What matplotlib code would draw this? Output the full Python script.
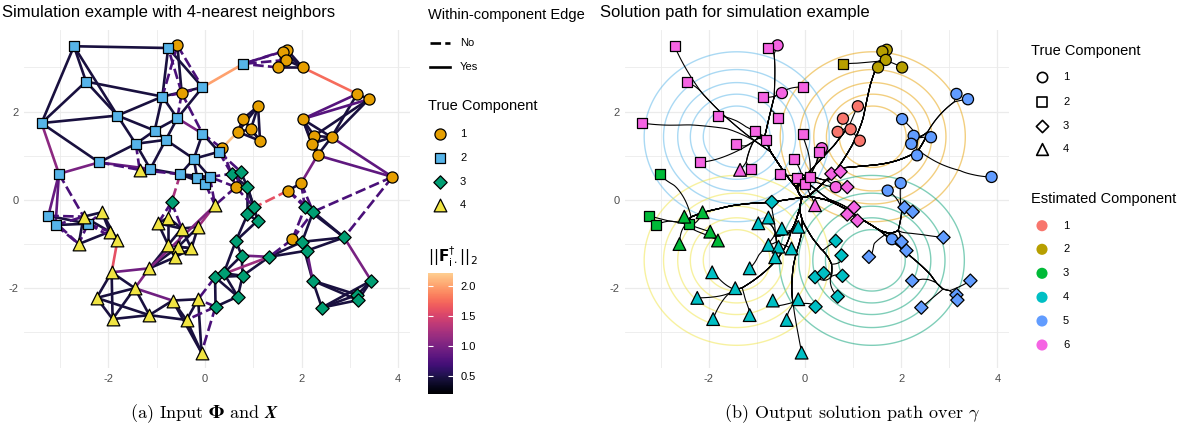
import numpy as np
import matplotlib
matplotlib.use("Agg")
import matplotlib.pyplot as plt
import matplotlib as mpl
from matplotlib.collections import LineCollection
from matplotlib.colors import LinearSegmentedColormap, Normalize

plt.rcParams['font.family'] = ['Liberation Sans', 'DejaVu Sans']
plt.rcParams['mathtext.fontset'] = 'dejavusans'
plt.rcParams['axes.unicode_minus'] = False

# ---------------- data ----------------
c1_x = [-0.57, -0.48, 1.70, 1.61, 1.68, 1.52, 2.02, 3.15, 3.39, 1.10, 0.79, 0.95, 0.68,
        1.14, 2.02, 2.26, 2.62, 2.21, 2.33, 3.88, 0.35, 0.64, 1.72, 1.99, 1.81]
c1_y = [3.50, 2.42, 3.40, 3.36, 3.17, 3.00, 3.00, 2.40, 2.28, 2.12, 1.84, 1.60, 1.54,
        1.34, 1.83, 1.45, 1.42, 1.27, 1.01, 0.52, 1.17, 0.29, 0.21, 0.38, -0.89]
c1_est = [6, 6, 2, 2, 2, 2, 2, 5, 5, 1, 1, 1, 1, 1, 5, 5, 5, 5, 5, 5, 6, 6, 5, 5, 5]

c2_x = [-2.71, -0.76, -2.46, -3.38, -1.81, -0.88, -0.57, -1.04, -0.81, -1.43, -0.05, -0.05, -0.23,
        -2.19, -1.13, -3.02, -0.51, -0.16, 0.01, 0.10, 0.29, 0.79, -3.24, -3.09, -2.42]
c2_y = [3.48, 3.44, 2.68, 1.74, 1.91, 2.34, 1.85, 1.57, 1.36, 1.27, 2.55, 1.50, 0.93,
        0.85, 0.70, 0.59, 0.58, 0.49, 0.36, 0.52, 1.09, 3.08, -0.36, -0.57, -0.54]
c2_est = [6, 6, 6, 6, 6, 6, 6, 6, 6, 6, 6, 6, 6, 6, 6, 3, 6, 6, 6, 6, 6, 2, 3, 3, 3]

c3_x = [-0.69, 0.55, 0.74, 0.88, 1.02, 0.88, 1.09, 0.64, 0.76, 1.33, 0.21, 0.39, 0.78,
        0.68, 0.22, 2.07, 2.24, 2.88, 2.01, 2.11, 2.23, 3.44, 3.15, 3.17, 2.42]
c3_y = [-0.05, 0.59, 0.64, 0.29, -0.17, -0.33, -0.47, -0.93, -1.26, -1.29, -1.75, -1.66, -1.72,
        -2.19, -2.42, -0.17, -0.27, -0.85, -0.95, -1.15, -1.83, -1.83, -2.15, -2.27, -2.44]
c3_est = [4, 6, 6, 6, 6, 6, 6, 4, 4, 5, 4, 4, 4, 4, 4, 5, 5, 5, 5, 5, 5, 5, 5, 5, 5]

c4_x = [-1.35, -2.51, -2.13, -1.97, -1.81, -2.61, -0.97, -0.76, -0.48, -0.14, -0.76, -0.55, -0.28,
        -0.62, -1.15, -1.93, -1.45, -2.24, -1.91, -1.15, -0.67, -0.14, -0.38, -0.07, 0.21]
c4_y = [0.68, -0.38, -0.28, -0.72, -0.92, -1.00, -0.53, -0.40, -0.65, -0.61, -1.02, -1.06, -1.10,
        -1.30, -1.55, -1.64, -2.00, -2.22, -2.70, -2.61, -2.28, -2.25, -2.72, -3.46, -0.12]
c4_est = [6, 3, 3, 3, 3, 3, 4, 4, 4, 4, 4, 4, 4, 4, 4, 4, 4, 4, 4, 4, 4, 4, 4, 4, 6]

# notable edges (component, index within component; 1-based) and their ||F|| values
edge_hi_a = [(2, 22), (1, 7), (1, 21), (3, 5), (4, 16), (2, 4), (2, 14), (2, 7), (4, 15),
             (4, 16), (4, 17), (4, 25), (4, 10), (3, 1), (3, 10), (1, 24), (3, 18), (3, 20),
             (2, 14), (2, 16), (2, 16), (3, 9), (1, 20), (1, 20), (1, 8), (1, 9)]
edge_hi_b = [(2, 11), (1, 8), (1, 13), (1, 23), (4, 5), (2, 16), (2, 16), (2, 12), (4, 17),
             (4, 15), (4, 21), (4, 15), (4, 25), (2, 17), (3, 11), (1, 19), (3, 22), (3, 21),
             (2, 15), (2, 23), (2, 24), (3, 10), (1, 17), (1, 19), (1, 15), (1, 15)]
edge_hi_val = [2.0, 1.75, 2.15, 1.6, 1.6, 1.1, 1.0, 1.0, 1.05,
               0.95, 0.95, 1.05, 1.2, 1.25, 1.2, 1.0, 1.0, 0.9,
               0.9, 0.9, 0.85, 0.95, 0.85, 0.85, 0.8, 0.8]
edge_val_within = 0.47
edge_val_between = 0.74
k_neighbors = 4
weight_phi = 0.5

true_labels = ['1', '2', '3', '4']
true_colors = ['#E69F00', '#56B4E9', '#009E73', '#F0E442']
true_markers = ['o', 's', 'D', '^']
marker_sizes = [64, 52, 46, 84]
est_labels = ['1', '2', '3', '4', '5', '6']
est_colors = ['#F8766D', '#B79F00', '#00BA38', '#00BFC4', '#619CFF', '#F564E3']
comp_mean_x = [1.41, -1.42, 1.39, -1.42]
comp_mean_y = [1.43, 1.43, -1.37, -1.37]
density_levels = [0.025, 0.05, 0.075, 0.1, 0.125]
cbar_ticks = [0.5, 1.0, 1.5, 2.0]
cbar_range = (0.21, 2.22)

# ---------------- assemble ----------------
groups_x = [c1_x, c2_x, c3_x, c4_x]
groups_y = [c1_y, c2_y, c3_y, c4_y]
groups_e = [c1_est, c2_est, c3_est, c4_est]
xs = np.array(sum(groups_x, []), float)
ys = np.array(sum(groups_y, []), float)
est = np.array(sum(groups_e, []), int)
true = np.concatenate([[c + 1] * len(g) for c, g in enumerate(groups_x)])
offs = np.concatenate([[0], np.cumsum([len(g) for g in groups_x])])
def gidx(ci):
    c, i = ci
    return int(offs[c - 1] + i - 1)

P = np.column_stack([xs, ys])
n = len(P)
Dm = np.sqrt(((P[:, None, :] - P[None, :, :]) ** 2).sum(-1))
A = np.zeros((n, n))
for i in range(n):
    nn = np.argsort(Dm[i])[1:k_neighbors + 1]
    A[i, nn] = 1
    A[nn, i] = 1
vals = {}
for i in range(n):
    for j in range(i + 1, n):
        if A[i, j]:
            vals[(i, j)] = edge_val_within if true[i] == true[j] else edge_val_between
for a, b, v in zip(edge_hi_a, edge_hi_b, edge_hi_val):
    i, j = sorted((gidx(a), gidx(b)))
    vals[(i, j)] = v
    A[i, j] = A[j, i] = 1

cmap = LinearSegmentedColormap.from_list('mag', plt.cm.magma(np.linspace(0, 0.9, 256)))
norm = Normalize(*cbar_range)

# ---------------- convex clustering solution path (ADMM) ----------------
edges = np.array(sorted(vals.keys()))
E = len(edges)
Dmat = np.zeros((E, n))
Dmat[np.arange(E), edges[:, 0]] = 1.0
Dmat[np.arange(E), edges[:, 1]] = -1.0
wts = np.exp(-weight_phi * Dm[edges[:, 0], edges[:, 1]] ** 2)
nu = 1.0
Minv = np.linalg.inv(np.eye(n) + nu * Dmat.T @ Dmat)
U = P.copy(); V = Dmat @ U; Lam = np.zeros_like(V)
gammas = np.logspace(-2.5, 1.7, 110)
path = [P.copy()]
for g in gammas:
    sig = (g * wts / nu)[:, None]
    for it in range(250):
        U = Minv @ (P + Dmat.T @ (Lam + nu * V))
        DU = Dmat @ U
        Zt = DU - Lam / nu
        nz = np.linalg.norm(Zt, axis=1, keepdims=True)
        V = np.maximum(0.0, 1.0 - sig / np.maximum(nz, 1e-12)) * Zt
        Lam = Lam + nu * (V - DU)
    path.append(U.copy())
paths = np.array(path)

# ---------------- figure ----------------
W, H = 1188, 440
fig = plt.figure(figsize=(W / 100, H / 100), dpi=100)

def pax(l, t, w, h):
    return fig.add_axes([l / W, 1 - (t + h) / H, w / W, h / H])

xr = xs.max() - xs.min(); yr = ys.max() - ys.min()
xlim = (xs.min() - 0.05 * xr, xs.max() + 0.05 * xr)
ylim = (ys.min() - 0.05 * yr, ys.max() + 0.05 * yr)

def style(ax):
    ax.set_xlim(xlim); ax.set_ylim(ylim)
    for s in ax.spines.values():
        s.set_visible(False)
    ax.set_xticks([-2, 0, 2, 4]); ax.set_yticks([-2, 0, 2])
    ax.set_xticks([-3, -1, 1, 3], minor=True); ax.set_yticks([-3, -1, 1, 3], minor=True)
    ax.grid(True, which='major', color='#ebebeb', lw=0.9)
    ax.grid(True, which='minor', color='#ebebeb', lw=0.6)
    ax.tick_params(which='both', length=0, labelsize=8, labelcolor='#4d4d4d', pad=4)
    ax.set_axisbelow(True)
    ax.set_facecolor('none')

axL = pax(24, 30, 386, 338)
axR = pax(625, 30, 384, 338)
style(axL); style(axR)

# left: edges
solid, dashed, sv, dv = [], [], [], []
for (i, j), v in vals.items():
    seg = [(xs[i], ys[i]), (xs[j], ys[j])]
    if true[i] == true[j]:
        solid.append(seg); sv.append(v)
    else:
        dashed.append(seg); dv.append(v)
lc1 = LineCollection(solid, colors=cmap(norm(sv)), linewidths=1.9, zorder=2, capstyle='butt')
lc2 = LineCollection(dashed, colors=cmap(norm(dv)), linewidths=1.9, zorder=2,
                     linestyles=[(0, (4, 1.6))])
axL.add_collection(lc1); axL.add_collection(lc2)
for c in range(4):
    m = true == c + 1
    axL.scatter(xs[m], ys[m], s=marker_sizes[c], marker=true_markers[c], c=true_colors[c],
                edgecolors='black', linewidths=0.9, zorder=3)

# right: density contours
gx = np.linspace(xlim[0], xlim[1], 300)
gy = np.linspace(ylim[0], ylim[1], 300)
GX, GY = np.meshgrid(gx, gy)
for c in range(4):
    Z = np.exp(-((GX - comp_mean_x[c]) ** 2 + (GY - comp_mean_y[c]) ** 2) / 2) / (2 * np.pi)
    axR.contour(GX, GY, Z, levels=density_levels, colors=[true_colors[c]], alpha=0.5,
                linewidths=1.0, zorder=1)

# right: paths and points
segs = [paths[:, i, :] for i in range(n)]
axR.add_collection(LineCollection(segs, colors='black', linewidths=0.8, zorder=2))
for c in range(4):
    m = true == c + 1
    axR.scatter(xs[m], ys[m], s=marker_sizes[c], marker=true_markers[c],
                c=[est_colors[e - 1] for e in est[m]], edgecolors='black', linewidths=0.9,
                zorder=3)

# titles
fig.text(2 / W, 1 - 12 / H, 'Simulation example with 4-nearest neighbors', fontsize=12,
         ha='left', va='center')
fig.text(600 / W, 1 - 12 / H, 'Solution path for simulation example', fontsize=12,
         ha='left', va='center')

# legends overlay
ov = fig.add_axes([0, 0, 1, 1])
ov.set_xlim(0, W); ov.set_ylim(H, 0); ov.axis('off')
ov.text(428, 15, 'Within-component Edge', fontsize=10.5, va='center')
ov.plot([430, 450], [43.3, 43.3], color='black', lw=1.9, dashes=(4, 1.6))
ov.plot([430, 450], [66.7, 66.7], color='black', lw=1.9)
ov.text(460, 43.3, 'No', fontsize=8, va='center')
ov.text(460, 66.7, 'Yes', fontsize=8, va='center')
ov.text(428, 106, 'True Component', fontsize=10.5, va='center')
for c, yy in enumerate([134, 158, 182, 205.3]):
    ov.scatter([440], [yy], s=marker_sizes[c], marker=true_markers[c], c=true_colors[c],
               edgecolors='black', linewidths=0.9)
    ov.text(460, yy, true_labels[c], fontsize=8, va='center')
ov.text(428, 257, r'$||\mathbf{F}^{\dagger}_{\mathrm{i}\cdot}||_2$', fontsize=11, va='center')

ov.text(1031, 50.7, 'True Component', fontsize=10.5, va='center')
for c, yy in enumerate([77.3, 101.7, 125.7, 149]):
    ov.scatter([1042], [yy], s=marker_sizes[c] * 0.85, marker=true_markers[c], facecolors='white',
               edgecolors='black', linewidths=1.2)
    ov.text(1063, yy, true_labels[c], fontsize=8, va='center')
ov.text(1031, 199, 'Estimated Component', fontsize=10.5, va='center')
for e, yy in enumerate([225.7, 249.3, 273.3, 297.3, 321, 345]):
    ov.scatter([1042], [yy], s=64, marker='o', c=est_colors[e], edgecolors='none')
    ov.text(1063, yy, est_labels[e], fontsize=8, va='center')

# colorbar
cax = pax(427.7, 272.7, 25.6, 121.3)
cb = mpl.colorbar.ColorbarBase(cax, cmap=cmap, norm=norm, orientation='vertical')
cb.outline.set_visible(False)
cb.set_ticks(cbar_ticks)
cb.set_ticklabels([f'{t:.1f}' for t in cbar_ticks])
cax.tick_params(length=0, labelsize=8, pad=5)
tr = cax.get_yaxis_transform()
cax.hlines(cbar_ticks, 0, 0.2, colors='white', lw=0.8, transform=tr)
cax.hlines(cbar_ticks, 0.8, 1.0, colors='white', lw=0.8, transform=tr)

# captions
fig.text(205 / W, 1 - 414 / H, r'(a) Input $\boldsymbol{\Phi}$ and $\boldsymbol{X}$', fontsize=13,
         family='cmr10', math_fontfamily='stix', ha='center', va='center')
fig.text(852 / W, 1 - 414 / H, r'(b) Output solution path over $\gamma$', fontsize=13,
         family='cmr10', math_fontfamily='cm', ha='center', va='center')

fig.savefig('out.png', dpi=100)
